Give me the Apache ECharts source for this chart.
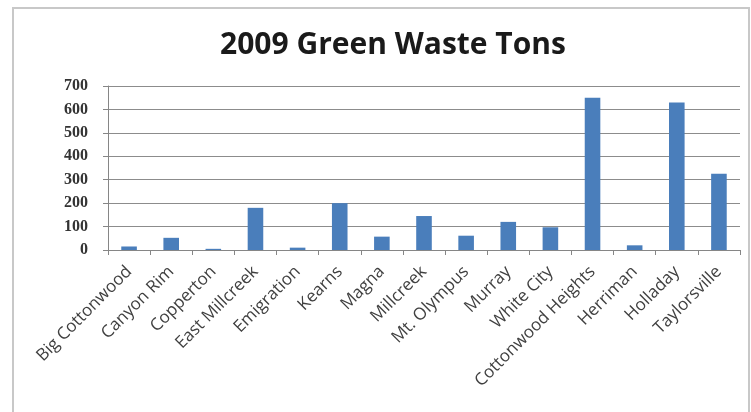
<!DOCTYPE html>
<html>
<head>
<meta charset="utf-8">
<script src="https://cdn.jsdelivr.net/npm/echarts@6/dist/echarts.min.js"></script>
<style>
html,body{margin:0;padding:0;background:#fff;}
#c{width:751px;height:412px;}
</style>
</head>
<body>
<div id="c"></div>
<script>
var categories = ["Big Cottonwood","Canyon Rim","Copperton","East Millcreek","Emigration","Kearns","Magna","Millcreek","Mt. Olympus","Murray","White City","Cottonwood Heights","Herriman","Holladay","Taylorsville"];
var tons = [15, 52, 5, 180, 10, 200, 57, 145, 61, 120, 97, 650, 20, 630, 325];
var yTicks = [0, 100, 200, 300, 400, 500, 600, 700];

var chart = echarts.init(document.getElementById('c'));
chart.setOption({
  animation: false,
  backgroundColor: '#ffffff',
  title: {
    text: '2009 Green Waste Tons',
    left: 388, top: 25, textAlign: 'center',
    textStyle: {fontFamily: 'Open Sans', fontWeight: 'bold', fontSize: 30, color: '#1a1a1a'}
  },
  graphic: [{
    type: 'rect', silent: true,
    shape: {x: 13, y: 8, width: 736, height: 430},
    style: {fill: 'none', stroke: '#c8c8c8', lineWidth: 2}
  }],
  grid: {left: 108, right: 11, top: 86, bottom: 162},
  xAxis: {
    type: 'category',
    data: categories,
    axisLine: {lineStyle: {color: '#868686'}},
    axisTick: {show: true, length: 5, alignWithLabel: false, lineStyle: {color: '#868686'}},
    axisLabel: {rotate: 45, interval: 0, fontFamily: 'Open Sans', fontSize: 17, color: '#404040', margin: 19}
  },
  yAxis: {
    type: 'value',
    min: yTicks[0], max: yTicks[yTicks.length - 1], interval: 100,
    axisLine: {show: true, lineStyle: {color: '#868686'}},
    axisTick: {show: true, length: 5, lineStyle: {color: '#868686'}},
    splitLine: {lineStyle: {color: '#8c8c8c', width: 1}},
    axisLabel: {fontFamily: 'Liberation Serif', fontWeight: 'bold', fontSize: 16, color: '#333333', margin: 20}
  },
  series: [{
    type: 'bar',
    data: tons,
    barWidth: '37%',
    itemStyle: {color: '#4a7ebb'}
  }]
});
</script>
</body>
</html>
